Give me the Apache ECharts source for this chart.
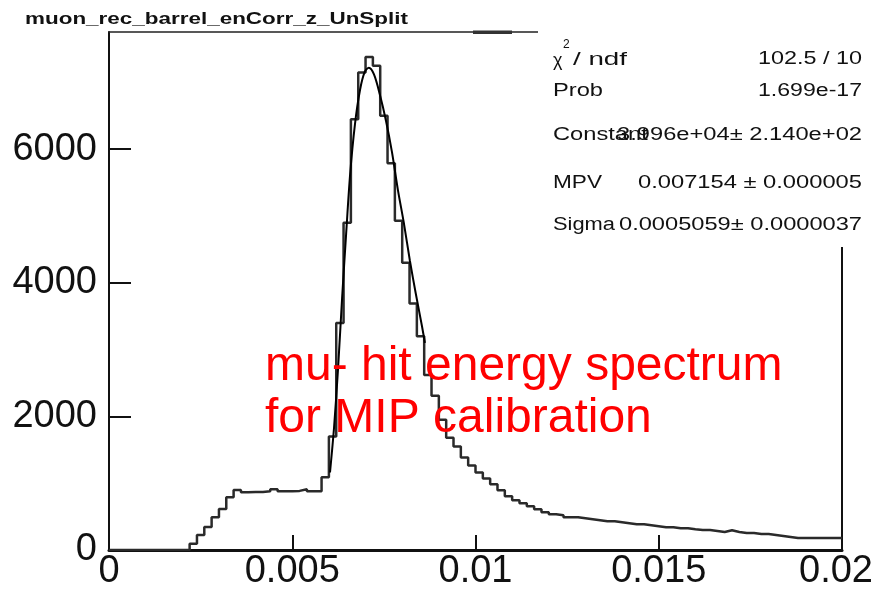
<!DOCTYPE html>
<html><head><meta charset="utf-8">
<script src="https://cdn.jsdelivr.net/npm/echarts@6/dist/echarts.min.js"></script>
<style>html,body{margin:0;padding:0;background:#fff}#c{width:876px;height:591px}</style>
</head><body><div id="c"></div>
<script>
// ---- data ----
const xLow = 0, xHigh = 0.02;          // histogram range (100 bins)
const counts = [
  0,0,0,0,0,0,0,0,0,0,
  0,95,225,345,490,615,790,900,865,870,
  870,880,910,880,880,885,910,880,880,1090,
  1700,3400,4900,6450,7150,7380,7250,6500,5790,4930,
  4300,3690,3200,2620,2310,1950,1680,1550,1385,1265,
  1160,1070,985,895,805,745,700,655,610,565,
  535,520,490,490,475,460,445,430,430,415,
  400,385,385,370,355,340,340,325,325,310,
  300,300,285,270,295,270,255,255,240,240,
  225,210,195,180,180,180,180,180,180,180
];
const fitX = [0.00603,0.00614,0.00625,0.00636,0.00647,0.00658,0.00671,0.00685,0.00698,0.00709,
              0.00723,0.00739,0.00756,0.00772,0.00788,0.00805,0.00821,0.00837,0.00854,0.00862];
const fitY = [1160,1830,2720,3770,4730,5630,6370,6890,7160,7220,
              7120,6820,6420,5960,5400,4880,4330,3840,3350,3100];
const yMax = 7755;
const xTickLabels = ['0','0.005','0.01','0.015','0.02'];
const yTickLabels = ['0','2000','4000','6000'];
const histTitle = 'muon_rec_barrel_enCorr_z_UnSplit';
const statNames = ['Prob','Constant','MPV','Sigma'];
const statValues = ['1.699e-17','3.996e+04\u00b1 2.140e+02','0.007154 \u00b1 0.000005','0.0005059\u00b1 0.0000037'];
const chiValue = '102.5 / 10';
const noteLines = ['mu- hit energy spectrum','for MIP calibration'];

// ---- build ----
const FF = '"Liberation Sans", Arial, Helvetica, sans-serif';
const binW = (xHigh - xLow) / counts.length;
const histData = counts.map((c, i) => [xLow + i * binW, c]);
histData.push([xHigh, counts[counts.length - 1]]);
const fitData = fitX.map((x, i) => [x, fitY[i]]);

const mctx = document.createElement('canvas').getContext('2d');
function measure(text, font) { mctx.font = font; return mctx.measureText(text).width; }
function txt(text, x, y, size, opts) {
  opts = opts || {};
  const weight = opts.weight || 'normal';
  const font = weight + ' ' + size + 'px ' + FF;
  let sx = opts.scaleX || 1;
  if (opts.width) sx = opts.width / measure(text, font);
  const align = opts.align || 'left';
  return {
    type: 'text', x: x, y: y, scaleX: sx, z: 120,
    style: { text: text, fill: opts.color || '#111', font: font,
             align: align, textAlign: align, verticalAlign: 'middle', textVerticalAlign: 'middle' }
  };
}
const probScale = (function(){ const f = 'normal 18px ' + FF; return 50 / measure('Prob', f); })();

const graphics = [
  { type: 'rect', z: 100, shape: { x: 538, y: 0, width: 338, height: 247 }, style: { fill: '#fff' } },
  { type: 'rect', z: 101, shape: { x: 473, y: 30.5, width: 39, height: 3.5 }, style: { fill: '#333' } },
  txt(histTitle, 25, 19, 17, { weight: 'bold', width: 383 }),
  txt('\u03c7', 553, 61, 18),
  txt('2', 563, 45, 12),
  txt('/ ndf', 573, 60, 18, { width: 54 }),
  txt(chiValue, 862, 59.5, 18, { align: 'right', width: 104 }),
  txt(statNames[0], 553, 91, 18, { width: 50 }),
  txt(statValues[0], 862, 91, 18, { align: 'right', width: 104 }),
  txt(statNames[1], 553, 135.5, 18, { scaleX: probScale }),
  txt(statValues[1], 862, 135.5, 18, { align: 'right', width: 245 }),
  txt(statNames[2], 553, 183.5, 18, { width: 49 }),
  txt(statValues[2], 862, 183.5, 18, { align: 'right', width: 224 }),
  txt(statNames[3], 553, 225, 18, { width: 62 }),
  txt(statValues[3], 862, 225, 18, { align: 'right', width: 243 }),
  txt(noteLines[0], 265, 367, 48, { color: '#ff0000' }),
  txt(noteLines[1], 265, 419, 48, { color: '#ff0000' })
];

const chart = echarts.init(document.getElementById('c'), null, { renderer: 'canvas' });
chart.setOption({
  animation: false,
  backgroundColor: '#fff',
  grid: { left: 109, right: 34, top: 32, bottom: 38, containLabel: false },
  xAxis: [{
    type: 'value', min: xLow, max: xHigh, interval: 0.005,
    axisLine: { show: true, onZero: false, lineStyle: { color: '#111', width: 3 } },
    axisTick: { show: true, inside: true, length: 15, lineStyle: { color: '#111', width: 2 } },
    splitLine: { show: false },
    axisLabel: {
      margin: 3, color: '#111', fontSize: 38, fontFamily: FF,
      formatter: function (v) {
        const i = Math.round(v / 0.005);
        const s = xTickLabels[i];
        return i === xTickLabels.length - 1 ? '{r|' + s + '}' : s;
      },
      rich: { r: { fontSize: 38, fontFamily: FF, color: '#111', padding: [0, 12, 0, 0] } }
    }
  }, {
    type: 'value', position: 'top', min: xLow, max: xHigh,
    axisLine: { show: true, onZero: false, lineStyle: { color: '#222', width: 1.5 } },
    axisTick: { show: false }, axisLabel: { show: false }, splitLine: { show: false }
  }],
  yAxis: [{
    type: 'value', min: 0, max: yMax, interval: 2000,
    axisLine: { show: true, onZero: false, lineStyle: { color: '#111', width: 2 } },
    axisTick: { show: true, inside: true, length: 22, lineStyle: { color: '#111', width: 2 } },
    splitLine: { show: false },
    axisLabel: {
      margin: 12, color: '#111', fontSize: 38, fontFamily: FF, showMaxLabel: false,
      formatter: function (v) { const i = Math.round(v / 2000); return (v % 2000 === 0 && yTickLabels[i]) ? yTickLabels[i] : ''; }
    }
  }, {
    type: 'value', position: 'right', min: 0, max: yMax,
    axisLine: { show: true, onZero: false, lineStyle: { color: '#111', width: 2 } },
    axisTick: { show: false }, axisLabel: { show: false }, splitLine: { show: false }
  }],
  series: [{
    type: 'line', name: 'hist', xAxisIndex: 0, yAxisIndex: 0,
    data: histData, step: 'end', showSymbol: false, symbol: 'none',
    lineStyle: { color: '#2a2a2a', width: 2.5 }, z: 3, silent: true
  }, {
    type: 'line', name: 'fit', xAxisIndex: 0, yAxisIndex: 0,
    data: fitData, smooth: 0.3, showSymbol: false, symbol: 'none',
    lineStyle: { color: '#000', width: 2 }, z: 4, silent: true
  }],
  graphic: { elements: graphics }
});
</script>
</body></html>
